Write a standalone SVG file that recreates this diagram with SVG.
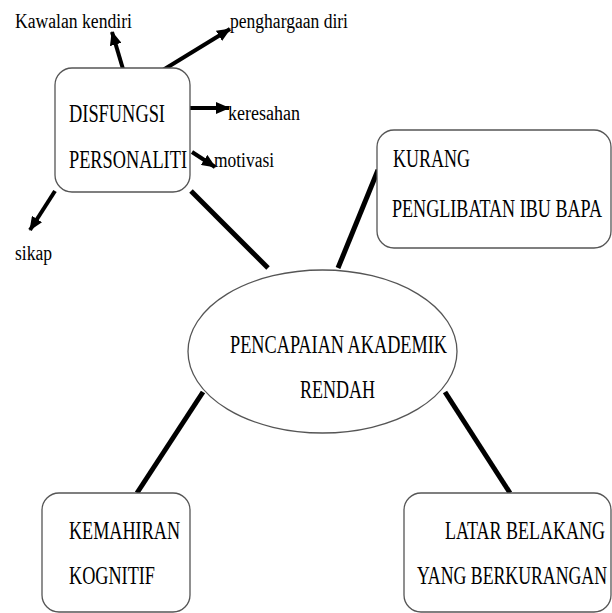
<svg xmlns="http://www.w3.org/2000/svg" width="612" height="613" viewBox="0 0 612 613">
<style>
.box{fill:#fff;stroke:#555;stroke-width:1.3}
.t{font-family:"Liberation Serif","Times New Roman",serif;fill:#000}
.u{font-size:25px}
.l{font-size:20px}
.c{stroke:#000;stroke-width:5;fill:none;stroke-linecap:butt}
.a{stroke:#000;stroke-width:4;fill:none;marker-end:url(#ah)}
</style>
<defs>
<marker id="ah" markerUnits="userSpaceOnUse" markerWidth="14" markerHeight="12" refX="13" refY="6" orient="auto">
<path d="M0,0 L14,6 L0,12 Z" fill="#000"/>
</marker>
</defs>
<rect width="612" height="613" fill="#fff"/>
<g id="connectors">
<line class="c" x1="191" y1="191" x2="268" y2="268"/>
<line class="c" x1="378" y1="170" x2="338" y2="268"/>
<line class="c" x1="203" y1="392" x2="137" y2="493"/>
<line class="c" x1="445" y1="392" x2="510" y2="493"/>
<line class="a" x1="123" y1="69" x2="112" y2="32"/>
<line class="a" x1="163" y1="70" x2="230" y2="29"/>
<line class="a" x1="190" y1="108" x2="229" y2="108"/>
<line class="a" x1="192" y1="152" x2="215" y2="167"/>
<line class="a" x1="55" y1="191" x2="30" y2="230"/>
</g>
<g id="disfungsi">
<rect class="box" x="55" y="68" width="135" height="124" rx="17"/>
<text class="t u" x="69" y="122" textLength="96" lengthAdjust="spacingAndGlyphs">DISFUNGSI</text>
<text class="t u" x="69" y="168" textLength="118" lengthAdjust="spacingAndGlyphs">PERSONALITI</text>
</g>
<g id="kawalan"><text class="t l" x="15" y="28" textLength="117" lengthAdjust="spacingAndGlyphs">Kawalan kendiri</text></g>
<g id="penghargaan"><text class="t l" x="230" y="28" textLength="118" lengthAdjust="spacingAndGlyphs">penghargaan diri</text></g>
<g id="keresahan"><text class="t l" x="228" y="120" textLength="72" lengthAdjust="spacingAndGlyphs">keresahan</text></g>
<g id="motivasi"><text class="t l" x="214" y="167" textLength="60" lengthAdjust="spacingAndGlyphs">motivasi</text></g>
<g id="sikap"><text class="t l" x="15" y="260" textLength="37" lengthAdjust="spacingAndGlyphs">sikap</text></g>
<g id="kurang">
<rect class="box" x="377" y="130" width="234" height="118" rx="17"/>
<text class="t u" x="393" y="167" textLength="77" lengthAdjust="spacingAndGlyphs">KURANG</text>
<text class="t u" x="392" y="217" textLength="210" lengthAdjust="spacingAndGlyphs">PENGLIBATAN IBU BAPA</text>
</g>
<g id="pencapaian">
<ellipse class="box" cx="322.5" cy="351.5" rx="134.5" ry="81.5"/>
<text class="t u" x="230" y="353" textLength="217" lengthAdjust="spacingAndGlyphs">PENCAPAIAN AKADEMIK</text>
<text class="t u" x="300" y="398" textLength="75" lengthAdjust="spacingAndGlyphs">RENDAH</text>
</g>
<g id="kemahiran">
<rect class="box" x="42" y="493" width="148" height="119" rx="17"/>
<text class="t u" x="69" y="539" textLength="111" lengthAdjust="spacingAndGlyphs">KEMAHIRAN</text>
<text class="t u" x="69" y="584" textLength="86" lengthAdjust="spacingAndGlyphs">KOGNITIF</text>
</g>
<g id="latar">
<rect class="box" x="404" y="493" width="207" height="119" rx="17"/>
<text class="t u" x="445" y="539" textLength="160" lengthAdjust="spacingAndGlyphs">LATAR BELAKANG</text>
<text class="t u" x="417" y="584" textLength="190" lengthAdjust="spacingAndGlyphs">YANG BERKURANGAN</text>
</g>
</svg>
